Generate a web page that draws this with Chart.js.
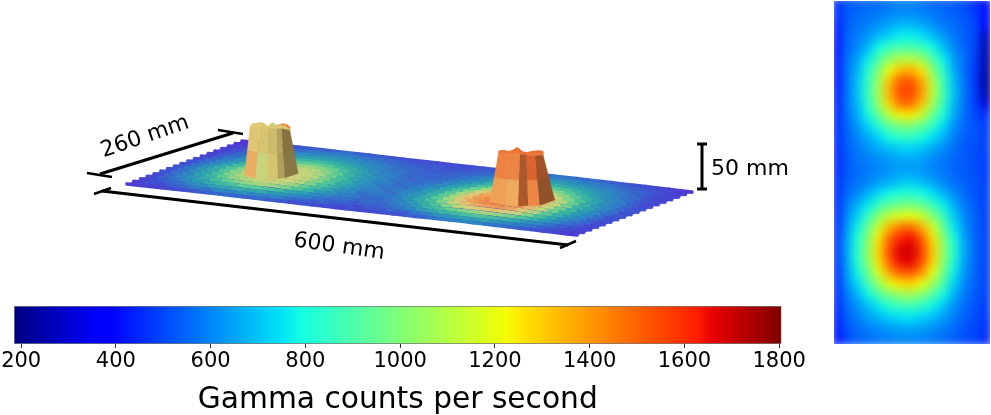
<!DOCTYPE html>
<html>
<head>
<meta charset="utf-8">
<title>Gamma counts</title>
<script src="https://cdn.jsdelivr.net/npm/chart.js@4"></script>
<style>
    body { margin: 0; background: #fff; }
    #page { position: relative; width: 991px; height: 415px; overflow: hidden; }
    #page canvas { position: absolute; }
    #surfaceChart { left: 0; top: 0; }
    #colorbarChart { left: 0; top: 295px; }
    #heatBox { position: absolute; left: 834px; top: 1px; width: 156px; height: 343px; overflow: hidden; }
    #heatChart { left: -12px; top: -13px; filter: blur(5px); }
</style>
</head>
<body>
<div id="page">
    <canvas id="surfaceChart" width="830" height="300"></canvas>
    <canvas id="colorbarChart" width="830" height="120"></canvas>
    <div id="heatBox"><canvas id="heatChart" width="180" height="368"></canvas></div>
</div>
<script>
// colour bar
const colorbarRange = [185, 1805];
const colorbarTicks = [200, 400, 600, 800, 1000, 1200, 1400, 1600, 1800];
const colorbarTitle = 'Gamma counts per second';

// top view, counts per second, one row per line
const heatRows = [
    [450,520,540,550,550,570,590,590,570,550,540,530,510,460,400],
    [450,530,550,570,580,600,610,610,600,580,560,540,520,490,400],
    [420,540,570,590,620,650,680,680,660,620,580,560,530,500,380],
    [400,550,580,630,680,730,770,770,750,690,630,580,540,500,270],
    [400,550,600,680,790,860,890,890,870,790,690,600,550,500,250],
    [400,560,640,760,900,1020,1090,1090,1040,910,770,640,560,490,240],
    [400,570,670,820,1000,1200,1330,1350,1250,1020,830,660,560,480,230],
    [400,570,690,850,1060,1320,1510,1530,1370,1110,870,690,570,470,230],
    [410,570,700,860,1080,1360,1550,1560,1410,1130,890,700,570,480,230],
    [420,570,680,840,1040,1290,1480,1490,1330,1080,860,680,570,490,300],
    [430,560,660,790,950,1120,1240,1250,1140,960,810,660,560,500,460],
    [440,550,630,720,830,930,990,990,940,850,740,620,550,520,480],
    [440,540,600,660,730,800,840,850,800,750,670,590,540,520,490],
    [440,540,580,620,660,690,720,720,700,660,610,570,530,510,490],
    [430,530,570,590,610,630,650,650,640,610,580,550,530,510,480],
    [440,530,560,580,600,620,640,640,630,600,580,550,530,510,480],
    [450,540,570,600,640,670,700,710,690,650,600,570,540,520,490],
    [440,560,600,670,740,790,820,830,800,750,680,610,560,520,490],
    [440,580,670,760,870,930,970,980,950,870,770,670,580,530,490],
    [440,600,720,860,1020,1130,1180,1200,1140,1020,870,710,600,540,490],
    [440,620,780,950,1150,1350,1470,1490,1370,1160,950,760,620,540,490],
    [450,640,810,1010,1250,1500,1620,1650,1520,1270,1020,800,640,550,490],
    [450,650,830,1030,1280,1550,1680,1700,1580,1310,1050,820,650,550,490],
    [450,640,820,1020,1260,1520,1650,1670,1550,1290,1030,810,640,550,490],
    [440,630,780,960,1170,1390,1510,1530,1420,1200,970,770,620,540,490],
    [440,610,730,880,1040,1190,1260,1290,1210,1060,900,720,600,540,490],
    [440,580,670,780,900,980,1040,1060,1000,920,790,670,580,530,490],
    [430,560,620,690,760,830,860,870,840,780,700,620,560,520,480],
    [420,540,590,640,680,720,740,750,720,690,640,590,540,510,470],
    [410,520,560,590,610,630,650,650,640,620,590,560,520,500,460],
    [400,500,540,560,580,590,600,600,590,580,560,540,510,490,450]
];

// 3D plate, front row first, 600 mm long and 260 mm wide
const surfaceRows = [
    [330,350,340,370,380,400,420,440,450,440,430,450,420,410,390,400,370,380,360,390,370,380,400,390,420,430,470,490,500,530,510,480,470,440,420,390,370,350,330,320],
    [340,390,380,430,450,490,480,530,510,550,520,500,510,460,440,420,440,400,410,380,420,410,440,430,480,500,560,570,610,590,620,570,540,500,470,430,410,370,350,330],
    [360,400,440,460,530,550,610,620,660,630,650,590,580,520,500,470,440,450,410,440,420,460,480,520,590,630,690,720,740,760,730,690,640,560,530,470,430,390,360,340],
    [370,430,470,540,590,650,710,740,800,780,750,710,640,600,530,510,470,470,440,460,450,490,530,600,680,740,820,880,920,950,900,850,760,670,600,520,470,420,370,340],
    [380,440,510,570,650,720,810,880,930,960,920,860,760,680,600,560,490,490,450,450,470,520,580,660,760,880,1010,1100,1150,1180,1120,1030,880,740,640,540,490,440,380,350],
    [390,470,520,610,690,800,910,980,1020,1040,1000,930,810,720,640,560,530,470,470,480,500,560,640,730,870,1040,1180,1280,1320,1340,1270,1140,960,790,660,580,510,440,400,350],
    [400,470,550,630,730,860,970,1040,1060,1080,1060,980,860,750,660,590,520,490,490,470,520,580,660,780,940,1140,1290,1380,1420,1420,1360,1210,1020,830,690,600,520,460,390,370],
    [410,480,570,640,770,890,1000,1070,1080,1100,1070,1000,880,760,650,600,530,510,470,490,530,570,670,790,960,1170,1320,1410,1440,1450,1380,1230,1040,840,700,590,540,450,410,360],
    [390,470,560,650,760,880,980,1050,1080,1090,1050,990,870,740,670,580,540,480,480,470,510,590,650,780,950,1150,1300,1400,1430,1430,1370,1220,1030,850,680,610,520,470,390,370],
    [400,460,540,610,720,830,930,1020,1050,1060,1030,950,840,720,630,570,510,500,460,480,510,560,640,750,900,1080,1220,1330,1370,1380,1310,1170,980,810,680,580,530,450,400,350],
    [370,450,510,580,670,780,880,960,1000,1010,980,900,790,690,610,560,520,470,470,450,490,540,610,700,830,970,1090,1170,1220,1220,1150,1030,880,750,640,570,500,440,390,360],
    [360,430,490,550,630,720,810,870,910,930,890,820,730,650,590,530,500,470,440,460,470,520,580,650,750,850,950,1020,1050,1050,1000,900,790,680,600,530,490,430,370,340],
    [350,420,460,520,580,650,720,770,800,810,780,720,660,600,550,510,480,450,450,430,460,490,540,600,680,760,830,880,900,900,860,780,690,620,560,510,460,410,370,340],
    [340,400,450,490,540,600,650,680,700,710,680,640,600,550,520,480,470,440,430,440,450,470,510,560,620,680,730,760,780,770,730,680,620,570,530,480,450,400,360,330],
    [340,380,420,470,500,540,580,600,620,620,600,570,540,510,490,460,440,440,420,420,440,460,490,530,570,610,640,660,670,660,640,600,560,530,490,460,430,390,360,330],
    [330,370,400,430,460,500,520,540,550,560,540,520,500,480,460,440,430,410,420,410,420,440,460,490,520,550,570,590,590,580,560,540,510,490,460,440,410,380,350,320],
    [320,350,380,400,430,450,470,490,490,500,490,470,460,440,430,410,400,410,390,400,400,420,430,450,480,500,510,520,530,520,500,490,470,450,430,410,390,370,340,320],
    [310,330,350,380,390,410,420,430,440,450,430,420,410,400,390,380,390,370,380,380,390,400,420,420,440,450,460,470,470,460,450,440,420,410,390,380,360,340,320,300]
];

// the two towers, mm from their centre along the plate and mm of height
const leftTower = {
    centre: [122.6, 117],
    baseU: [-34.9, -20.7, -3.6, 9.6, 18.9, 36.5],
    topU: [-27.7, -14.1, -3.6, 7.9, 14.5, 25.5],
    baseZ: [-3.2, -5.6, -4.7, -2.7, -1.1, 5.4],
    topZ: [52, 52, 51, 52, 53, 52],
    upperCounts: [1150, 1130, 1140, 1160, 1200],
    lowerCounts: [1250, 1050, 1130, 1150, 1150],
    rimU: [-25.1, -18.5, -11.9, -7.5, -3.2, 2.1, 7.9, 14.5, 21.1, 25.5],
    rimZ: [54, 55, 56.8, 55, 52.8, 58, 55.3, 57.8, 57.7, 54.4],
    rimCounts: [1150, 1150, 1180, 1130, 1130, 1000, 1250, 1400, 1450, 1450],
    capCount: 1130
};
const rightTower = {
    centre: [452, 118],
    baseU: [-38.2, -17.4, 0, 13.3, 28.8, 48.6],
    topU: [-26.3, -13.1, 2.4, 11.2, 22.2, 33.2],
    baseZ: [-2.3, -4, -3.4, -1.4, 0.3, 7.8],
    topZ: [53, 53, 54, 54, 54, 56],
    upperCounts: [1420, 1400, 1440, 1500, 1450],
    lowerCounts: [1300, 1260, 1440, 1400, 1400],
    rimU: [-26.3, -19.7, -13.1, -6.5, -1.2, 4.6, 11.2, 17.8, 26.6, 33.2],
    rimZ: [54.4, 56.1, 55.3, 57.4, 60.9, 57, 56.2, 58.2, 59.9, 60],
    rimCounts: [1450, 1450, 1450, 1480, 1500, 1480, 1450, 1480, 1480, 1450],
    capCount: 1450
};

// styling from here on
const upperShade = [1, 0.97, 0.72, 0.95, 0.68];
const lowerShade = [1, 1, 0.72, 0.98, 0.6];
const leftUpperShade = [1, 0.97, 0.93, 0.82, 0.6];
const leftLowerShade = [1, 1, 0.97, 0.8, 0.6];

const jetStops = [
    [0, '#00007f'], [0.11, '#0000ff'], [0.125, '#0000ff'], [0.35, '#00e5f6'], [0.375, '#14ffe2'],
    [0.64, '#f3ff04'], [0.66, '#ffe600'], [0.89, '#ff1e00'], [0.91, '#e80000'], [1, '#7f0000']
];
const surfaceStops = [
    [300, [84, 50, 212]], [400, [62, 84, 208]], [500, [46, 128, 198]], [600, [44, 158, 178]],
    [700, [60, 184, 160]], [800, [92, 204, 146]], [900, [140, 212, 132]], [1000, [186, 214, 122]],
    [1100, [216, 208, 120]], [1200, [230, 188, 108]], [1300, [240, 160, 86]], [1400, [242, 136, 70]],
    [1500, [232, 104, 46]]
];
const dimLines = [
    [100, 174, 233, 133, 3], [87, 173, 112, 177, 2.5], [218, 130, 243, 134, 2.5],
    [102, 191, 568, 245, 3], [94, 194, 111, 188, 2.5], [560, 248, 576, 241, 2.5],
    [702, 144, 702, 189, 3], [697, 144, 707, 144, 3], [697, 189, 707, 189, 3]
];
const dimLabels = [
    ['260 mm', 145, 137, -19], ['600 mm', 339, 247, 8], ['50 mm', 750, 169, 0]
];
const fontFamily = '"DejaVu Sans", sans-serif';

Chart.defaults.animation = false;
Chart.defaults.events = [];
Chart.defaults.font.family = fontFamily;

// plate mm to position on the flat page
function project(u, v, z) {
    return {
        x: 127 + 0.75 * u + 0.442 * v,
        y: 184 + 0.085 * u - 0.165 * v - 0.9 * z
    };
}

function surfaceColor(value, shade = 1) {
    let stop = surfaceStops.findIndex(s => s[0] >= value);
    if (stop < 1) stop = value < surfaceStops[0][0] ? 1 : surfaceStops.length - 1;
    const [v0, c0] = surfaceStops[stop - 1];
    const [v1, c1] = surfaceStops[stop];
    const t = Math.min(1, Math.max(0, (value - v0) / (v1 - v0)));
    const rgb = c0.map((c, i) => Math.round((c + (c1[i] - c) * t) * shade));
    return `rgb(${rgb.join(',')})`;
}

function jetColor(value) {
    const t = (value - colorbarRange[0]) / (colorbarRange[1] - colorbarRange[0]);
    const toRgb = hex => [1, 3, 5].map(i => parseInt(hex.slice(i, i + 2), 16));
    let i = jetStops.findIndex(s => s[0] >= t);
    if (i < 1) i = t <= 0 ? 1 : jetStops.length - 1;
    const c0 = toRgb(jetStops[i - 1][1]);
    const c1 = toRgb(jetStops[i][1]);
    const f = Math.min(1, Math.max(0, (t - jetStops[i - 1][0]) / (jetStops[i][0] - jetStops[i - 1][0])));
    return `rgb(${c0.map((c, k) => Math.round(c + (c1[k] - c) * f)).join(',')})`;
}

function polygon(points, color) {
    return {
        data: points,
        fill: 'shape',
        backgroundColor: color,
        borderColor: color,
        borderWidth: 0.6,
        pointRadius: 0,
        tension: 0
    };
}

// rows are drawn from the back of the plate to the front
function surfaceDatasets() {
    const out = [polygon([
        project(0, 0, 0), project(600, 0, 0), project(600, 260, 0), project(0, 260, 0)
    ], surfaceColor(340))];
    const uStep = 600 / (surfaceRows[0].length - 1);
    const vStep = 260 / (surfaceRows.length - 1);
    for (let j = surfaceRows.length - 1; j >= 0; j--) {
        const row = surfaceRows[j];
        out.push({
            data: row.map((count, i) => project(i * uStep, j * vStep, (count - 300) * 0.003)),
            borderWidth: 3.6,
            borderCapStyle: 'round',
            pointRadius: 0,
            tension: 0,
            segment: { borderColor: c => surfaceColor(row[c.p0DataIndex]) }
        });
    }
    return out;
}

function towerDatasets(tower, upper, lower) {
    const out = [];
    const [cu, cv] = tower.centre;
    const top = tower.topU.map((du, i) => project(cu + du, cv, tower.topZ[i]));
    const base = tower.baseU.map((du, i) => project(cu + du, cv, tower.baseZ[i]));
    const rim = tower.rimU.map((du, i) => project(cu + du, cv, tower.rimZ[i]));
    const mid = top.map((p, i) => ({
        x: p.x + (base[i].x - p.x) * 0.5,
        y: p.y + (base[i].y - p.y) * 0.5
    }));
    // cap between the jagged rim and the facet tops
    out.push(polygon([...rim, ...top.slice().reverse()], surfaceColor(tower.capCount)));
    for (let i = 0; i < top.length - 1; i++) {
        out.push(polygon([top[i], top[i + 1], mid[i + 1], mid[i]], surfaceColor(tower.upperCounts[i], upper[i])));
        out.push(polygon([mid[i], mid[i + 1], base[i + 1], base[i]], surfaceColor(tower.lowerCounts[i], lower[i])));
    }
    out.push({
        data: rim,
        borderWidth: 2,
        pointRadius: 0,
        tension: 0,
        segment: { borderColor: c => surfaceColor(tower.rimCounts[c.p0DataIndex]) }
    });
    return out;
}

function dimDatasets() {
    return dimLines.map(([x1, y1, x2, y2, w]) => ({
        data: [{ x: x1, y: y1 }, { x: x2, y: y2 }],
        borderColor: '#000',
        borderWidth: w,
        pointRadius: 0
    }));
}

const dimLabelPlugin = {
    id: 'dimLabels',
    afterDraw(chart) {
        const { ctx, scales } = chart;
        ctx.save();
        ctx.fillStyle = '#000';
        ctx.font = `22px ${fontFamily}`;
        ctx.textAlign = 'center';
        ctx.textBaseline = 'middle';
        dimLabels.forEach(([text, x, y, angle]) => {
            ctx.save();
            ctx.translate(scales.x.getPixelForValue(x), scales.y.getPixelForValue(y));
            ctx.rotate(angle * Math.PI / 180);
            ctx.fillText(text, 0, 0);
            ctx.restore();
        });
        ctx.restore();
    }
};

new Chart(document.getElementById('surfaceChart'), {
    type: 'line',
    data: {
        // chart.js paints the last dataset first
        datasets: [
            ...surfaceDatasets(),
            ...towerDatasets(leftTower, leftUpperShade, leftLowerShade),
            ...towerDatasets(rightTower, upperShade, lowerShade),
            ...dimDatasets()
        ].reverse()
    },
    options: {
        responsive: false,
        layout: { padding: 0 },
        plugins: { legend: { display: false }, tooltip: { enabled: false } },
        scales: {
            x: { type: 'linear', display: false, min: 0, max: 830 },
            y: { type: 'linear', display: false, min: 0, max: 300, reverse: true }
        }
    },
    plugins: [dimLabelPlugin]
});

new Chart(document.getElementById('colorbarChart'), {
    type: 'bar',
    data: {
        labels: ['counts'],
        datasets: [{
            data: [colorbarRange],
            barPercentage: 1,
            categoryPercentage: 1,
            borderColor: '#777',
            borderWidth: 1,
            borderSkipped: false,
            backgroundColor: c => {
                const area = c.chart.chartArea;
                if (!area) return '#00f';
                const g = c.chart.ctx.createLinearGradient(area.left, 0, area.right, 0);
                jetStops.forEach(([t, color]) => g.addColorStop(t, color));
                return g;
            }
        }]
    },
    options: {
        responsive: false,
        indexAxis: 'y',
        layout: { padding: { left: 13.5, right: 48.5, top: 11, bottom: 0 } },
        plugins: { legend: { display: false }, tooltip: { enabled: false } },
        scales: {
            y: { display: false },
            x: {
                type: 'linear',
                min: colorbarRange[0],
                max: colorbarRange[1],
                afterBuildTicks: scale => { scale.ticks = colorbarTicks.map(value => ({ value })); },
                afterFit: scale => { scale.height = 71; },
                border: { display: false },
                grid: { drawOnChartArea: false, tickLength: 4, color: '#333' },
                ticks: {
                    autoSkip: false,
                    maxRotation: 0,
                    padding: 1,
                    color: '#000',
                    font: { size: 21 },
                    callback: value => String(value)
                },
                title: {
                    display: true,
                    text: colorbarTitle,
                    color: '#000',
                    font: { size: 29.7 },
                    padding: { top: 10, bottom: -3 }
                }
            }
        }
    }
});

new Chart(document.getElementById('heatChart'), {
    type: 'scatter',
    data: {
        datasets: [{
            data: heatRows.flatMap((row, r) => row.map((count, c) => ({ x: c, y: r, count }))),
            pointStyle: 'rect',
            pointRadius: 9.4,
            borderWidth: 0,
            backgroundColor: c => jetColor(c.raw.count)
        }]
    },
    options: {
        responsive: false,
        layout: { padding: 0 },
        plugins: { legend: { display: false }, tooltip: { enabled: false } },
        scales: {
            x: { type: 'linear', display: false, min: -0.5, max: 14.5 },
            y: { type: 'linear', display: false, min: -0.5, max: 30.5, reverse: true }
        }
    }
});
</script>
</body>
</html>
